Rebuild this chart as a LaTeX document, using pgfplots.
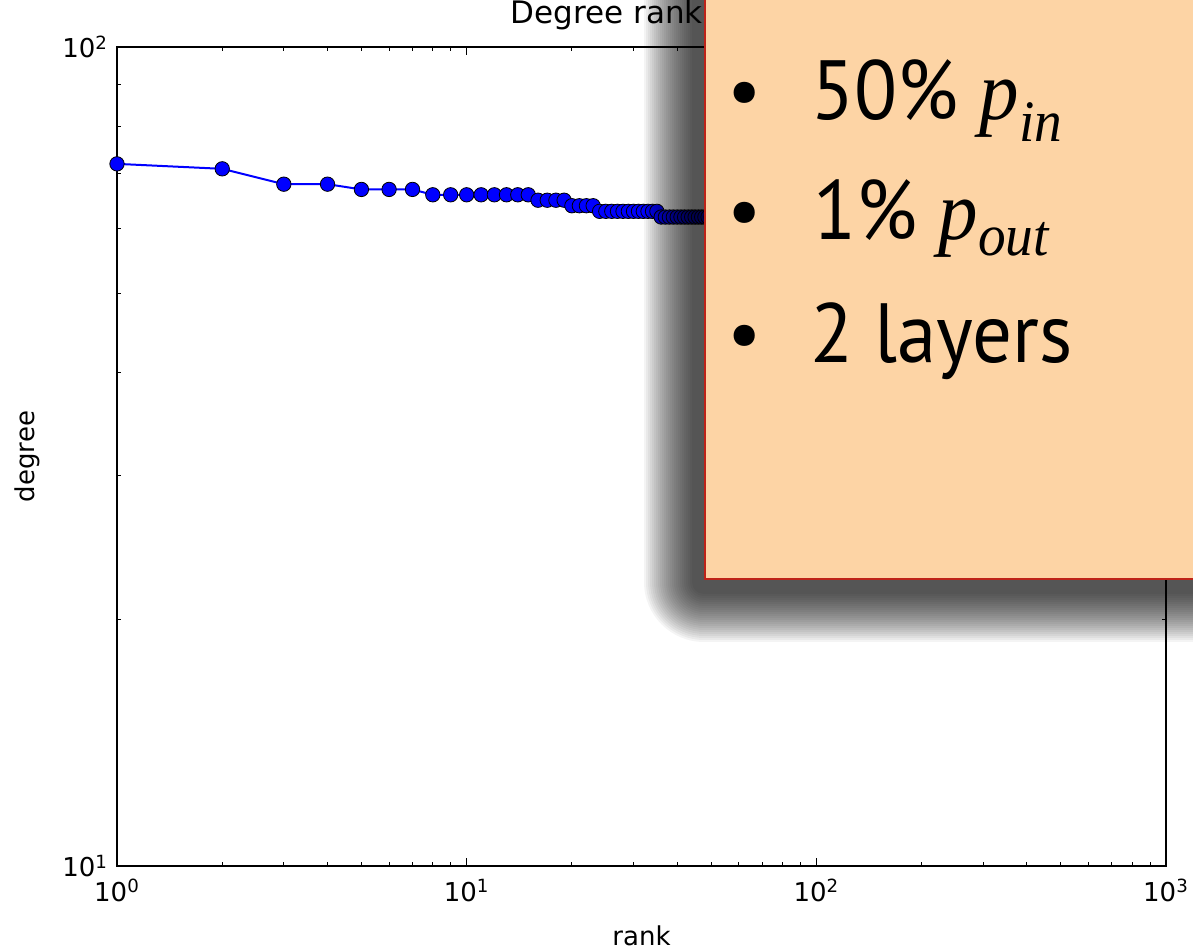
\documentclass[border=0pt]{standalone}
\usepackage{fontspec}
\setmainfont{DejaVu Sans}
\newfontfamily\boxfont{PT Sans}
\newfontfamily\mifont{Liberation Serif}
\usepackage{pgfplots}
\pgfplotsset{compat=1.18}
\definecolor{boxfill}{RGB}{253,212,165}
\definecolor{boxedge}{RGB}{190,35,25}
\newcommand{\mv}[2]{{\mifont\itshape #1\textsubscript{#2}}}
\begin{document}
\begin{tikzpicture}[x=0.5pt,y=0.5pt]
\useasboundingbox (0,0) rectangle (1193,951);
\begin{axis}[
  at={(58.5pt,42.5pt)}, anchor=south west,
  scale only axis, width=524.5pt, height=409.5pt,
  xmode=log, ymode=log,
  xmin=1, xmax=1000, ymin=10, ymax=100,
  xtick={1,10,100,1000},
  xticklabels={10\textsuperscript{0},10\textsuperscript{1},10\textsuperscript{2},10\textsuperscript{3}},
  ytick={10,100},
  yticklabels={10\textsuperscript{1},10\textsuperscript{2}},
  tick label style={font=\fontsize{13}{15}\selectfont},
  xticklabel style={yshift=-3pt},
  yticklabel style={xshift=-1pt},
  axis line style={line width=1pt},
  major tick length=4pt, minor tick length=2pt,
  every tick/.style={black, line width=0.5pt},
  tick align=inside,
  title={Degree rank plot},
  title style={at={(axis description cs:0.5,1.0134)}, anchor=base, font=\fontsize{15.5}{18}\selectfont},
  xlabel={rank},
  xlabel style={at={(axis description cs:0.5,-0.0965)}, anchor=base, font=\fontsize{13}{15}\selectfont},
  ylabel={degree},
  ylabel style={at={(axis description cs:-0.0791,0.5)}, rotate=0, anchor=base, font=\fontsize{13}{15}\selectfont},
]
\addplot[color=blue, line width=1pt, mark=*, mark size=3.6pt,
  mark options={fill=blue, draw=black, line width=0.4pt}] coordinates {
(1,72)(2,71)(3,68)(4,68)(5,67)(6,67)(7,67)
(8,66)(9,66)(10,66)(11,66)(12,66)(13,66)(14,66)(15,66)
(16,65)(17,65)(18,65)(19,65)
(20,64)(21,64)(22,64)(23,64)
(24,63)(25,63)(26,63)(27,63)(28,63)(29,63)(30,63)(31,63)(32,63)(33,63)(34,63)(35,63)
(36,62)(37,62)(38,62)(39,62)(40,62)(41,62)(42,62)(43,62)(44,62)(45,62)(46,62)(47,62)(48,62)(49,62)(50,62)
};
\end{axis}
\begin{scope}
\clip (0,0) rectangle (1193,951);
\foreach \e in {-24,-22,...,24} {
  \pgfmathsetmacro{\r}{(\e+36)*0.5}
  \pgfmathsetmacro{\lx}{668-\e}
  \pgfmathsetmacro{\ly}{333-\e}
  \fill[black, opacity=0.042, rounded corners=\r pt] (\lx,\ly) rectangle (1300,1050);
}
\fill[boxfill] (705,372) rectangle (1250,1000);
\draw[boxedge, line width=1.3pt] (705,372) rectangle (1250,1000);
\end{scope}
\node[anchor=base west, inner sep=0, font=\boxfont\fontsize{38}{46}\selectfont] at (727,834) {•};
\node[anchor=base west, inner sep=0, font=\boxfont\fontsize{38}{46}\selectfont] at (727,714) {•};
\node[anchor=base west, inner sep=0, font=\boxfont\fontsize{38}{46}\selectfont] at (727,591) {•};
\node[anchor=base west, inner sep=0, xscale=0.94, font=\boxfont\fontsize{42}{50}\selectfont] at (811,831) {50\% \mv{p}{in}};
\node[anchor=base west, inner sep=0, xscale=0.94, font=\boxfont\fontsize{42}{50}\selectfont] at (813,711) {1\% \mv{p}{out}};
\node[anchor=base west, inner sep=0, xscale=0.94, font=\boxfont\fontsize{42}{50}\selectfont] at (810,588) {2 layers};
\end{tikzpicture}
\end{document}
